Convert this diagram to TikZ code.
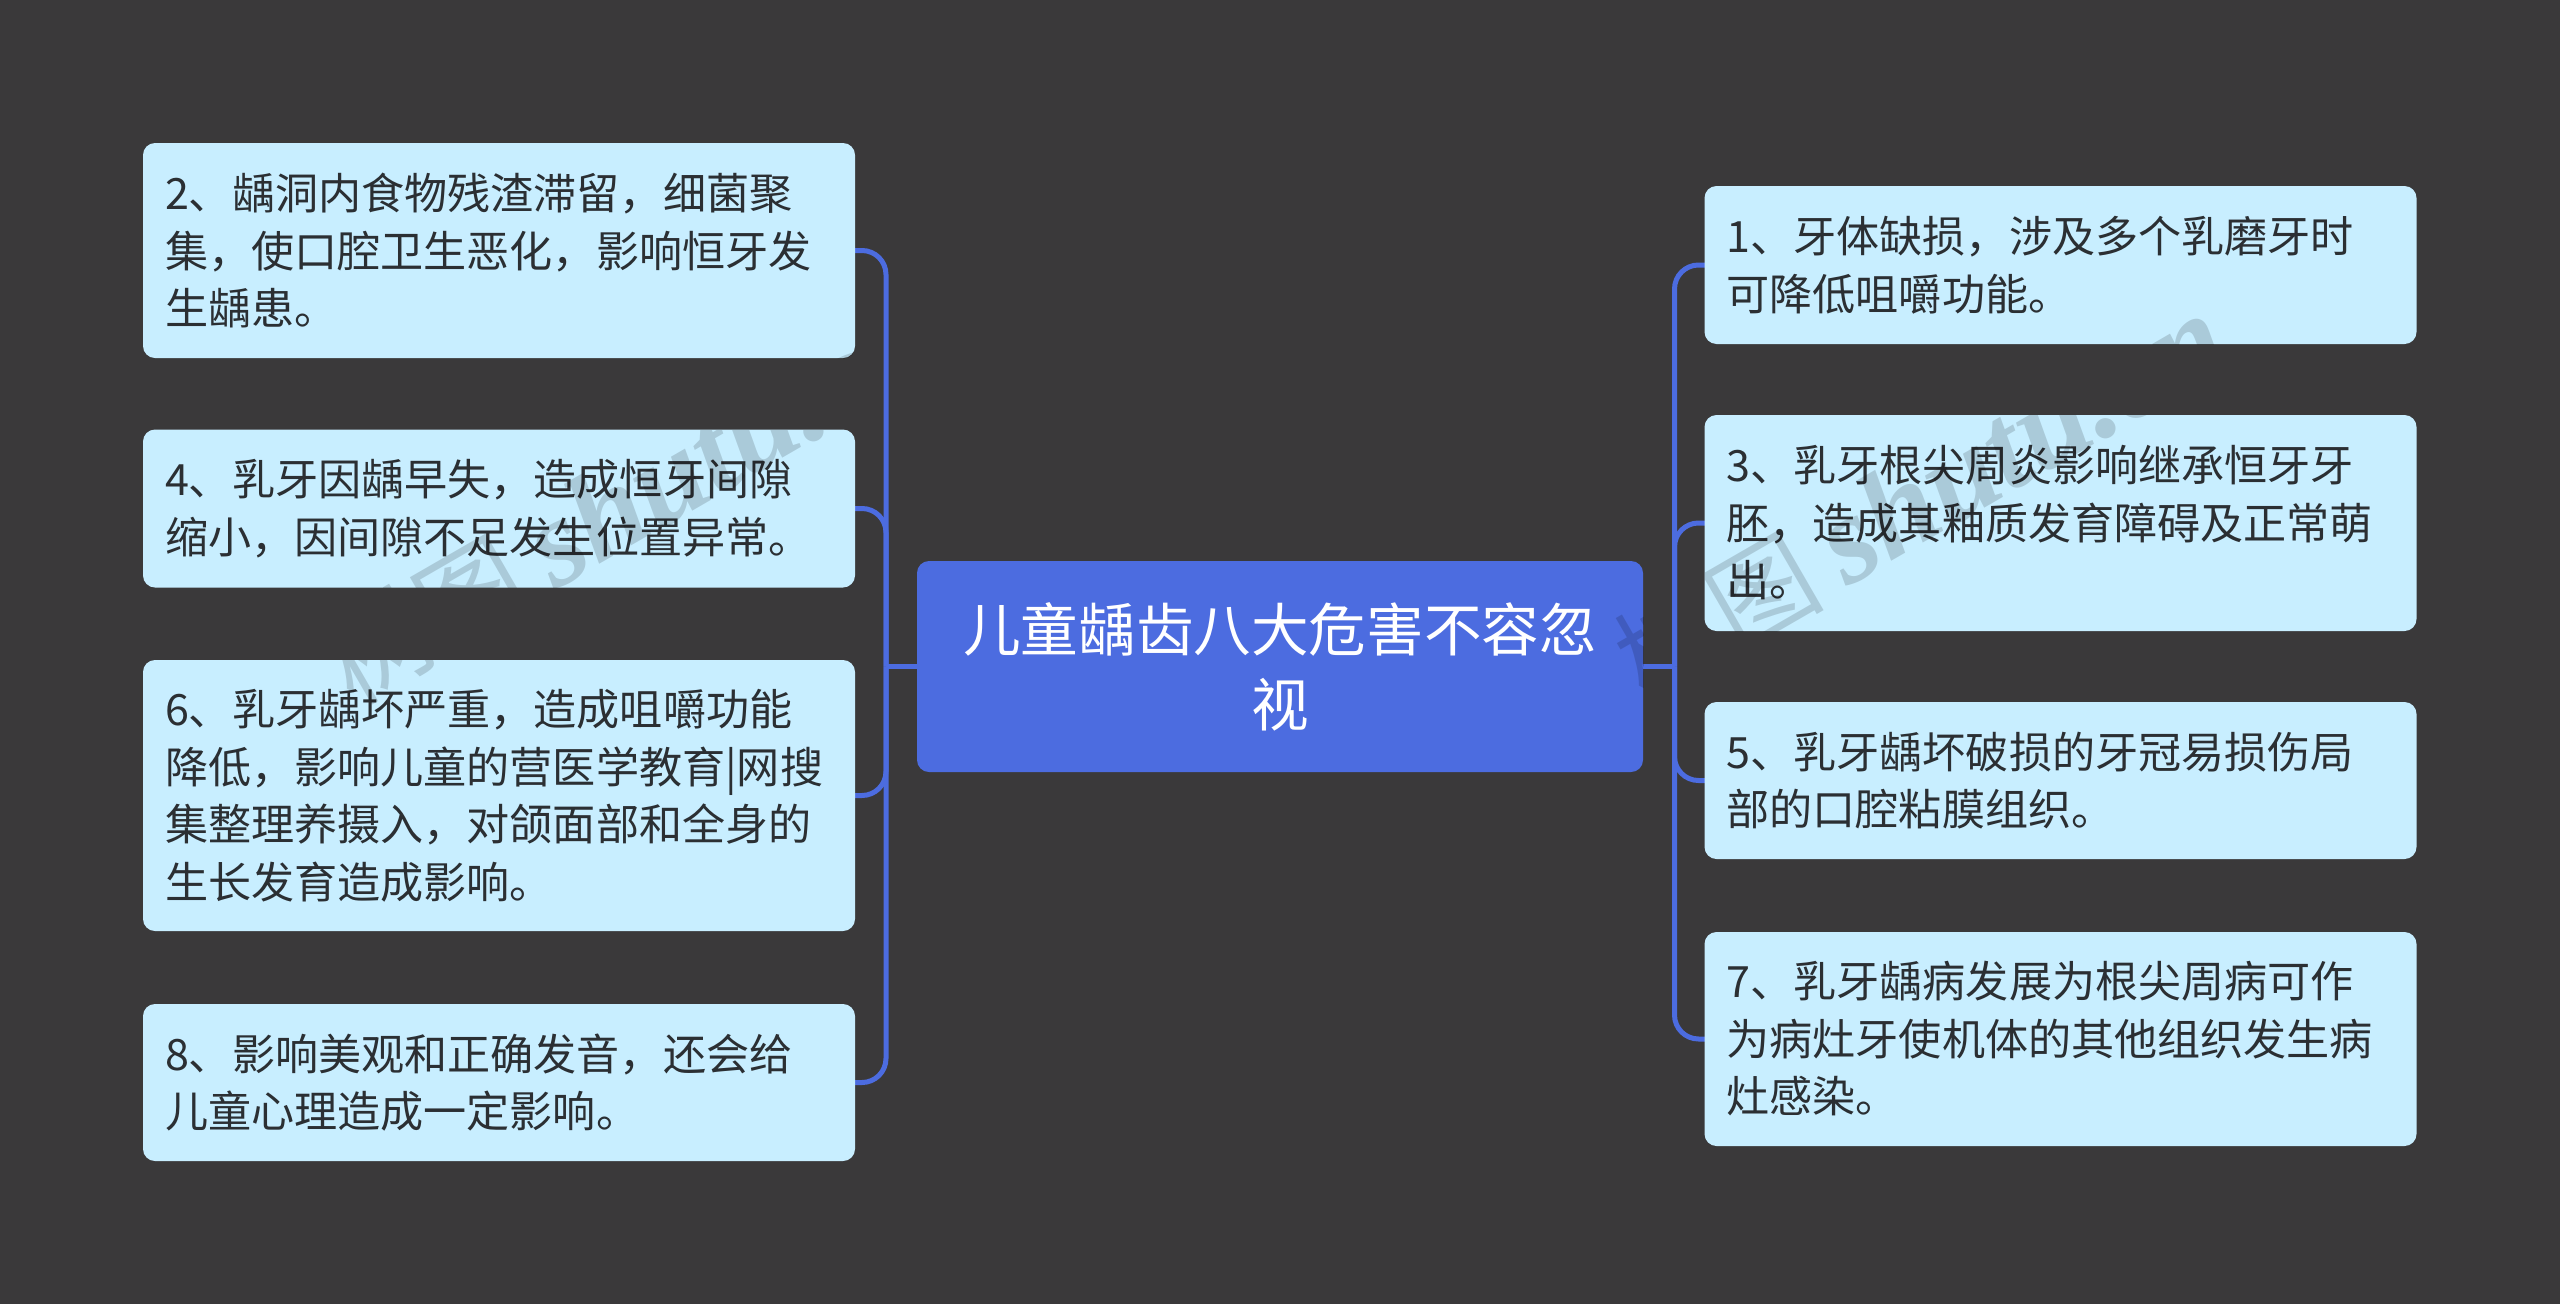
\documentclass[tikz,border=0pt]{standalone}
\usepackage{fontspec}
\setmainfont{Noto Sans CJK SC}
\newfontfamily\wmlatin[Ligatures=TeX]{Liberation Serif}
\definecolor{bgdark}{HTML}{3A393A}
\definecolor{boxfill}{HTML}{C8EEFF}
\definecolor{bluemain}{HTML}{4C6CE0}
\definecolor{inktext}{HTML}{2B2F33}
\tikzset{
  leaf/.style={draw=none,fill=boxfill,rounded corners=12pt,text=inktext,
    font=\fontsize{43.1}{57.5}\selectfont,align=left,inner xsep=22pt,inner ysep=0pt,
    text width=668pt,minimum width=712pt},
  rootbox/.style={draw=none,fill=bluemain,rounded corners=12pt,text=white,
    font=\fontsize{57.6}{75}\selectfont,align=center,inner xsep=10pt,inner ysep=0pt,
    text width=706pt,minimum width=726pt},
  conn/.style={draw=bluemain,line width=5pt,rounded corners=24pt},
  wmark/.style={text=black,text opacity=.15,rotate=30,anchor=base west,inner sep=0pt,
    font=\fontsize{105}{125}\selectfont}
}
\begin{document}
\begin{tikzpicture}[x=1pt,y=-1pt]
\useasboundingbox (0,0) rectangle (2560,1304);
\fill[bgdark] (0,0) rectangle (2560,1304);
\coordinate (sl) at (886,666.5);
\coordinate (sr) at (1674.5,666.5);
% connectors
\draw[conn] (855,250.5) coordinate (a2) -| (sl);
\draw[conn] (855,508.5) coordinate (a4) -| (sl);
\draw[conn] (855,795.5) coordinate (a6) -| (sl);
\draw[conn] (855,1082.5) coordinate (a8) -| (sl);
\draw[conn] (1705,265) coordinate (a1) -| (sr);
\draw[conn] (1705,523) coordinate (a3) -| (sr);
\draw[conn] (1705,780.5) coordinate (a5) -| (sr);
\draw[conn] (1705,1039) coordinate (a7) -| (sr);
\draw[conn] (917,666.5) coordinate (cl) -- (sl);
\draw[conn] (1643,666.5) coordinate (cr) -- (sr);
% nodes
\node[rootbox,minimum height=211pt] (root) at (1280,666.5) {儿童龋齿八大危害不容忽\\视};
\node[leaf,minimum height=215pt] (b2) at (499,250.5) {2、龋洞内食物残渣滞留，细菌聚\\集，使口腔卫生恶化，影响恒牙发\\生龋患。};
\node[leaf,minimum height=158pt] (b4) at (499,508.5) {4、乳牙因龋早失，造成恒牙间隙\\缩小，因间隙不足发生位置异常。};
\node[leaf,minimum height=271pt] (b6) at (499,795.5) {6、乳牙龋坏严重，造成咀嚼功能\\降低，影响儿童的营医学教育|网搜\\集整理养摄入，对颌面部和全身的\\生长发育造成影响。};
\node[leaf,minimum height=157pt] (b8) at (499,1082.5) {8、影响美观和正确发音，还会给\\儿童心理造成一定影响。};
\node[leaf,minimum height=158pt] (b1) at (2060.5,265) {1、牙体缺损，涉及多个乳磨牙时\\可降低咀嚼功能。};
\node[leaf,minimum height=216pt] (b3) at (2060.5,523) {3、乳牙根尖周炎影响继承恒牙牙\\胚，造成其釉质发育障碍及正常萌\\出。};
\node[leaf,minimum height=157pt] (b5) at (2060.5,780.5) {5、乳牙龋坏破损的牙冠易损伤局\\部的口腔粘膜组织。};
\node[leaf,minimum height=214pt] (b7) at (2060.5,1039) {7、乳牙龋病发展为根尖周病可作\\为病灶牙使机体的其他组织发生病\\灶感染。};
% watermark: it only shows where it crosses the boxes
\begin{scope}
\clip[rounded corners=12pt]
  (b1.south west) rectangle (b1.north east)
  (b2.south west) rectangle (b2.north east)
  (b3.south west) rectangle (b3.north east)
  (b4.south west) rectangle (b4.north east)
  (b5.south west) rectangle (b5.north east)
  (b6.south west) rectangle (b6.north east)
  (b7.south west) rectangle (b7.north east)
  (b8.south west) rectangle (b8.north east)
  (root.south west) rectangle (root.north east);
\node[wmark] (w1) at (353,707) {树图 {\fontsize{125}{125}\selectfont\wmlatin\bfseries\itshape shutu.cn}};
\node[wmark] (w2) at (1645,704) {树图 {\fontsize{125}{125}\selectfont\wmlatin\bfseries\itshape shutu.cn}};
\end{scope}
\end{tikzpicture}
\end{document}
